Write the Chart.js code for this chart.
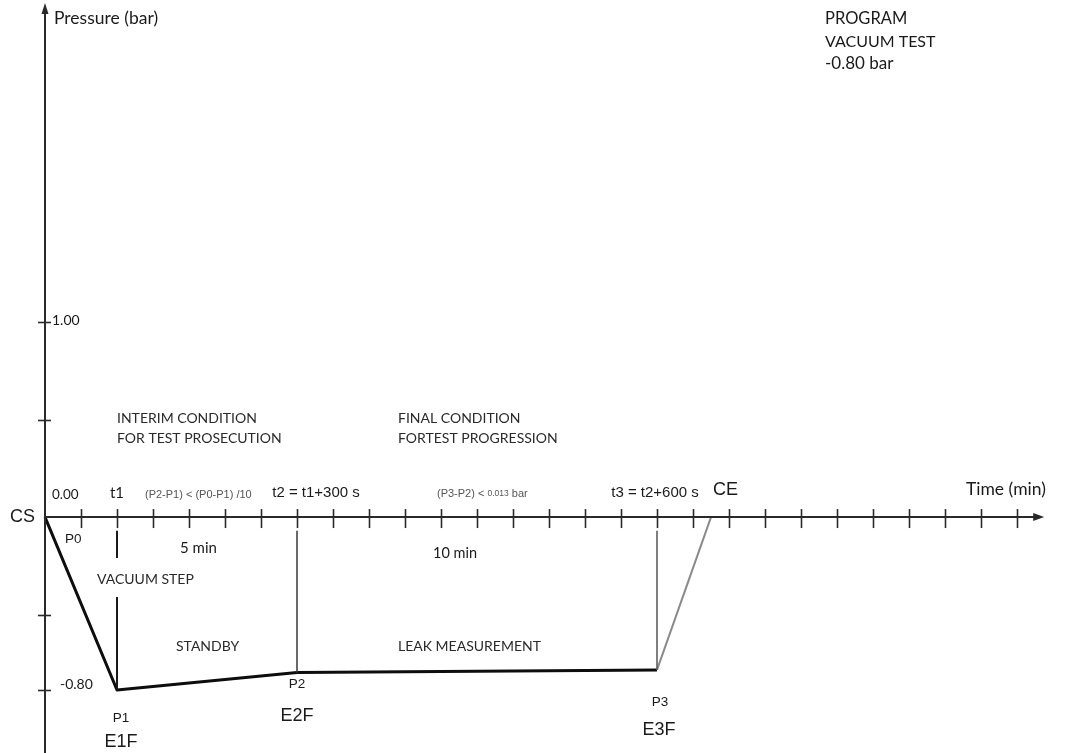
<!DOCTYPE html>
<html>
<head>
<meta charset="utf-8">
<title>Vacuum test program</title>
<script src="https://cdn.jsdelivr.net/npm/chart.js@4/dist/chart.umd.min.js"></script>
<style>
  html, body { margin: 0; padding: 0; background: #fff; }
  #wrap { position: relative; width: 1065px; height: 753px; }
</style>
</head>
<body>
<div id="wrap"><canvas id="chart"></canvas></div>
<script>
/* ─── DATA (time in min, pressure in bar) ─────────────── */
const T1 = 2, T2 = 7, T3 = 17, T_END = 18.5
const P0 = 0.00, P1 = -0.80, P2 = -0.73, P3 = -0.72

const curveTimes     = [0, T1, T2, T3]
const curvePressures = [P0, P1, P2, P3]
const ventTimes      = [T3, T_END]
const ventPressures  = [P3, 0]

// vertical phase markers: time, top of line, bottom of line
const markerTimes   = [T1, T2, T3]
const markerTop     = [-0.07, -0.07, -0.07]
const markerBottom  = [P1, P2, P3]
const t1GapFrom = -0.21, t1GapTo = -0.41   // break for "VACUUM STEP"

const xTicks      = [1, 2, 3, 4, 5, 6, 7, 8, 9, 10, 11, 12, 13, 14, 15, 16, 17, 18, 19, 20, 21, 22, 23, 24, 25, 26, 27]
const yTickValues = [1.00, 0.50, -0.50, -0.80]
const yTickLabels = ['1.00', '', '', '-0.80']

/* ─── SCHEMATIC Y SCALE ───────────────────────────────── */
// the drawing is not to scale below -0.5 bar, so stretch that part
const REAL_STOPS  = [-0.80, -0.50, 0, 1]
const DRAWN_STOPS = [-0.887, -0.50, 0, 1]

const toDrawn = (v) => {
  if (v === null || v === undefined || isNaN(v)) return v
  const r = REAL_STOPS, d = DRAWN_STOPS
  let i = 0
  if (v >= r[r.length - 1]) i = r.length - 2
  else if (v > r[0]) while (v > r[i + 1]) i++
  return d[i] + (v - r[i]) * (d[i + 1] - d[i]) / (r[i + 1] - r[i])
}

class SchematicScale extends Chart.LinearScale {
  getPixelForValue(value, index) {
    return super.getPixelForValue(toDrawn(value), index)
  }
}
SchematicScale.id = 'schematic'
SchematicScale.defaults = Chart.LinearScale.defaults
Chart.register(SchematicScale)

/* ─── STYLE ───────────────────────────────────────────── */
const MYRIAD = 'Lato, "Noto Sans", sans-serif'
const ARIAL  = '"Liberation Sans", Arial, sans-serif'
const INK    = '#1a1a1a'
const X_AXIS_END = 27.7

const labels = [
  { t: 'Pressure (bar)', x: 54,  y: 18,  f: `17.5px ${MYRIAD}` },
  { t: 'PROGRAM',        x: 825, y: 19,  f: `16.5px ${MYRIAD}` },
  { t: 'VACUUM TEST',    x: 825, y: 42,  f: `16px ${MYRIAD}` },
  { t: '-0.80 bar',      x: 825, y: 64,  f: `17px ${MYRIAD}` },
  { t: '0.00',           x: 52,  y: 495, f: `13.5px ${MYRIAD}` },
  { t: 'CS',             x: 35,  y: 517, f: `18px ${ARIAL}`, a: 'right' },
  { t: 't1',             x: 117, y: 493, f: `15px ${MYRIAD}`, a: 'center' },
  { t: '(P2-P1) < (P0-P1) /10', x: 145, y: 495, f: `11px ${ARIAL}`, c: '#555' },
  { t: 't2 = t1+300 s',  x: 316, y: 493, f: `15px ${ARIAL}`, a: 'center' },
  { t: 't3 = t2+600 s',  x: 655, y: 493, f: `15px ${ARIAL}`, a: 'center' },
  { t: 'CE',             x: 713, y: 490, f: `18px ${ARIAL}` },
  { t: 'Time (min)',     x: 966, y: 489, f: `17.5px ${MYRIAD}` },
  { t: 'P0',             x: 65,  y: 539, f: `13.5px ${ARIAL}` },
  { t: '5 min',          x: 180, y: 548, f: `15px ${MYRIAD}` },
  { t: '10 min',         x: 433, y: 553, f: `14.5px ${MYRIAD}` },
  { t: 'VACUUM STEP',    x: 97,  y: 579, f: `14px ${MYRIAD}`, c: '#2a2a2a' },
  { t: 'STANDBY',        x: 176, y: 646, f: `14px ${MYRIAD}`, c: '#2a2a2a' },
  { t: 'LEAK MEASUREMENT', x: 398, y: 646, f: `14px ${MYRIAD}`, c: '#2a2a2a' },
  { t: 'P1',             x: 121, y: 718, f: `13.5px ${ARIAL}`, a: 'center' },
  { t: 'E1F',            x: 121, y: 742, f: `18px ${ARIAL}`, a: 'center' },
  { t: 'P2',             x: 297, y: 684, f: `13.5px ${ARIAL}`, a: 'center' },
  { t: 'E2F',            x: 297, y: 716, f: `18px ${ARIAL}`, a: 'center' },
  { t: 'P3',             x: 660, y: 702, f: `13.5px ${ARIAL}`, a: 'center' },
  { t: 'E3F',            x: 659, y: 730, f: `18px ${ARIAL}`, a: 'center' },
  { t: 'INTERIM CONDITION',    x: 117, y: 418, f: `14px ${MYRIAD}`, c: '#2a2a2a' },
  { t: 'FOR TEST PROSECUTION', x: 117, y: 438, f: `14px ${MYRIAD}`, c: '#2a2a2a' },
  { t: 'FINAL CONDITION',      x: 398, y: 418, f: `14px ${MYRIAD}`, c: '#2a2a2a' },
  { t: 'FORTEST PROGRESSION',  x: 398, y: 438, f: `14px ${MYRIAD}`, c: '#2a2a2a' },
]

/* ─── AXES + TEXT PLUGIN ──────────────────────────────── */
const schematicAxes = {
  id: 'schematicAxes',
  afterDraw(chart) {
    const { ctx, chartArea, scales: { x, y } } = chart
    const x0 = x.getPixelForValue(0)
    const y0 = y.getPixelForValue(0)
    const xEnd = x.getPixelForValue(X_AXIS_END)
    ctx.save()
    ctx.strokeStyle = '#2a2a2a'
    ctx.fillStyle = '#2a2a2a'
    ctx.lineWidth = 2

    // y axis + arrow
    ctx.beginPath()
    ctx.moveTo(x0, chartArea.bottom)
    ctx.lineTo(x0, chartArea.top + 6)
    ctx.stroke()
    ctx.beginPath()
    ctx.moveTo(x0, chartArea.top - 2)
    ctx.lineTo(x0 - 3.5, chartArea.top + 9)
    ctx.lineTo(x0 + 3.5, chartArea.top + 9)
    ctx.closePath()
    ctx.fill()

    // x axis + arrow
    ctx.beginPath()
    ctx.moveTo(x0, y0)
    ctx.lineTo(xEnd - 6, y0)
    ctx.stroke()
    ctx.beginPath()
    ctx.moveTo(xEnd + 2, y0)
    ctx.lineTo(xEnd - 9, y0 - 4)
    ctx.lineTo(xEnd - 9, y0 + 4)
    ctx.closePath()
    ctx.fill()

    // ticks
    ctx.lineWidth = 1.6
    xTicks.forEach(v => {
      const px = Math.round(x.getPixelForValue(v)) + 0.5
      ctx.beginPath()
      ctx.moveTo(px, y0 - 8)
      ctx.lineTo(px, y0 + 11)
      ctx.stroke()
    })
    ctx.textBaseline = 'middle'
    ctx.textAlign = 'left'
    ctx.font = `14px ${MYRIAD}`
    yTickValues.forEach((v, i) => {
      const py = Math.round(y.getPixelForValue(v)) + 0.5
      ctx.beginPath()
      ctx.moveTo(x0 - 7, py)
      ctx.lineTo(x0 + 6, py)
      ctx.stroke()
      if (yTickLabels[i]) {
        ctx.fillStyle = INK
        const dx = v < 0 ? 15 : 7
        const dy = v < 0 ? -6 : -2
        ctx.fillText(yTickLabels[i], x0 + dx, py + dy)
      }
    })

    // text labels
    labels.forEach(l => {
      ctx.font = l.f
      ctx.fillStyle = l.c || INK
      ctx.textAlign = l.a || 'left'
      ctx.fillText(l.t, l.x, l.y)
    })

    // "(P3-P2) < 0.013 bar" with small number
    ctx.textAlign = 'left'
    ctx.fillStyle = '#555'
    let cx = 437
    const parts = [['(P3-P2) < ', 11], ['0.013', 8.5], [' bar', 11]]
    parts.forEach(([s, size]) => {
      ctx.font = `${size}px ${ARIAL}`
      ctx.fillText(s, cx, 494)
      cx += ctx.measureText(s).width
    })
    ctx.restore()
  },
}

/* ─── DATASETS ────────────────────────────────────────── */
const pts = (xs, ys) => xs.map((t, i) => ({ x: t, y: ys[i] }))

const markerSets = markerTimes.map((t, i) => {
  const data = i === 0
    ? [{ x: t, y: markerTop[i] }, { x: t, y: t1GapFrom }, { x: t, y: null },
       { x: t, y: t1GapTo }, { x: t, y: markerBottom[i] }]
    : [{ x: t, y: markerTop[i] }, { x: t, y: markerBottom[i] }]
  return {
    data,
    borderColor: i === 0 ? '#1a1a1a' : (i === 1 ? '#3a3a3a' : '#555'),
    borderWidth: i === 0 ? 2 : 1.5,
  }
})

const datasets = [
  ...markerSets,
  { data: pts(ventTimes, ventPressures), borderColor: '#8a8a8a', borderWidth: 2 },
  { data: pts(curveTimes, curvePressures), borderColor: '#0d0d0d', borderWidth: 3, borderJoinStyle: 'round' },
].map(d => ({ showLine: true, pointRadius: 0, spanGaps: false, clip: false, tension: 0, ...d }))

new Chart(document.getElementById('chart'), {
  type: 'scatter',
  data: { datasets },
  options: {
    responsive: true,
    maintainAspectRatio: false,
    animation: false,
    events: [],
    layout: { padding: { left: 45, right: 12, top: 5, bottom: 0 } },
    plugins: { legend: { display: false }, tooltip: { enabled: false } },
    scales: {
      x: { type: 'linear', min: 0, max: 28, display: false },
      y: { type: 'schematic', min: -1.21, max: 2.626, display: false },
    },
  },
  plugins: [schematicAxes],
})
</script>
</body>
</html>
